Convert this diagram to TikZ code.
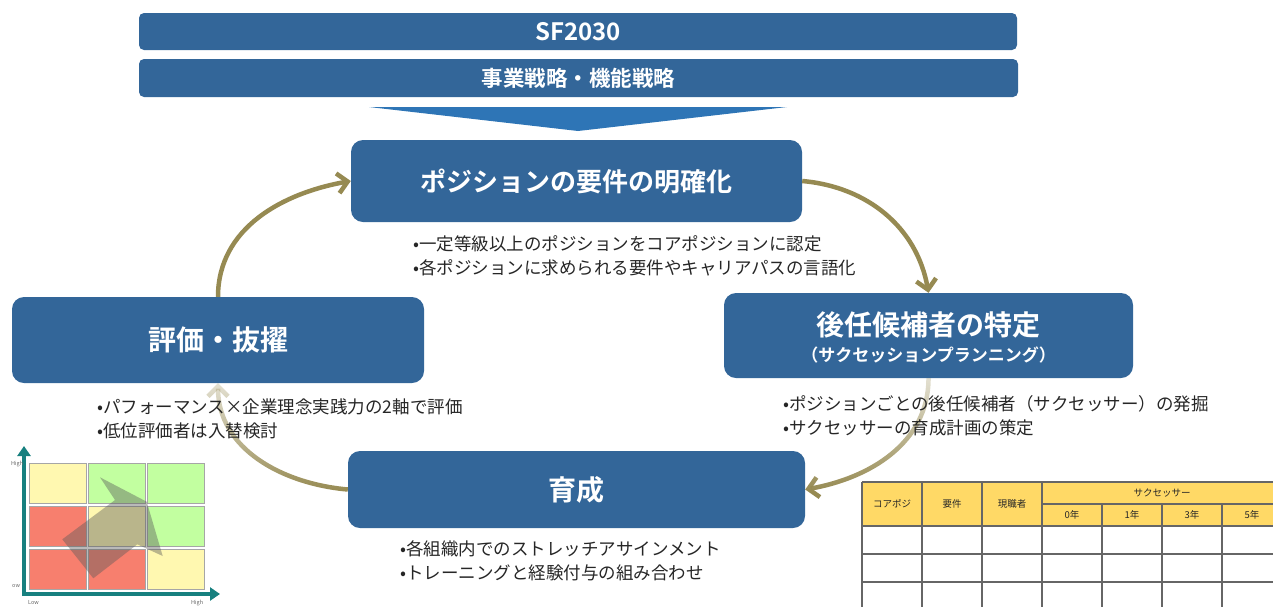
\documentclass[tikz,border=0pt]{standalone}
\usepackage{fontspec}
\setmainfont{Noto Sans CJK JP}[BoldFont={Noto Sans CJK JP Bold}]
\usetikzlibrary{arrows.meta,fadings}
\definecolor{boxblue}{HTML}{336699}
\definecolor{chevblue}{HTML}{2E75B6}
\definecolor{arrowolive}{HTML}{968A52}
\definecolor{cellY}{HTML}{FFF8B0}
\definecolor{cellG}{HTML}{C2FFA0}
\definecolor{cellR}{HTML}{F77F6E}
\definecolor{axisteal}{HTML}{17807F}
\definecolor{thead}{HTML}{FFD966}
\newcommand{\fs}[1]{\fontsize{#1}{#1}\selectfont}
\tikzfading[name=topfade, top color=transparent!75, middle color=transparent!15, bottom color=transparent!0]
\begin{document}
\begin{tikzpicture}[x=1pt,y=1pt,
  bar/.style={fill=boxblue, rounded corners=5pt, text=white, font=\bfseries, inner sep=0},
  box/.style={fill=boxblue, rounded corners=12pt, text=white, font=\bfseries, inner sep=0},
  bullet/.style={anchor=west, inner sep=0, text=black!85, font=\fs{17.5}},
  cycle/.style={draw=arrowolive, line width=4.5pt, -{Straight Barb[length=10pt,width=20pt]}},
  faded/.style={path fading=topfade, fit fading=true},
  cell/.style={draw=black!35, line width=0.8pt},
  tline/.style={draw=black!60, line width=1.2pt},
  ttext/.style={inner sep=0, font=\fs{9.5}, text=black!85},
  axis/.style={draw=axisteal, line width=4pt, -{Triangle[length=10pt,width=13pt]}},
  tiny/.style={inner sep=0, font=\fs{5.5}, text=black!60}
]
\useasboundingbox (0,0) rectangle (1273,-606);
\clip (0,0) rectangle (1273,-606);

% top bars
\node[bar, minimum width=878, minimum height=37] (sf) at (578,-31.5) {\fs{24}SF2030};
\node[bar, minimum width=879, minimum height=38] (st) at (578.5,-78) {\fs{21.5}事業戦略・機能戦略};
\fill[chevblue] (369,-107) -- (787,-107) -- (578,-131) -- cycle;

% main boxes
\node[box, minimum width=451, minimum height=82] (b1) at (576.5,-181) {\fs{26}ポジションの要件の明確化};
\node[box, minimum width=409, minimum height=85] (b2) at (928.5,-335.5) {};
\node[inner sep=0, text=white, font=\bfseries\fs{28}] (b2t) at (928.5,-325) {後任候補者の特定};
\node[inner sep=0, text=white, font=\bfseries\fs{17}] (b2s) at (928.5,-355) {（サクセッションプランニング）};
\node[box, minimum width=412, minimum height=86] (b3) at (218,-340) {\fs{28}評価・抜擢};
\node[box, minimum width=457, minimum height=77] (b4) at (576.5,-489.5) {\fs{28}育成};

% cycle arrows (behind the bullet texts)
\draw[cycle] (b3.north) to[out=90,in=190] (b1.west);
\draw[cycle] (b1.east) to[out=-5,in=100] (b2.north);
\draw[cycle, faded] (b2.south) to[out=-90,in=10] (b4.east);
\draw[cycle, faded] (b4.west) to[out=175,in=-90] (b3.south);

% bullets
\node[bullet] (t1a) at (413,-244) {•一定等級以上のポジションをコアポジションに認定};
\node[bullet] (t1b) at (413,-268) {•各ポジションに求められる要件やキャリアパスの言語化};
\node[bullet] (t2a) at (783,-404) {•ポジションごとの後任候補者（サクセッサー）の発掘};
\node[bullet] (t2b) at (783,-428) {•サクセッサーの育成計画の策定};
\node[bullet] (t3a) at (97,-407) {•パフォーマンス×企業理念実践力の2軸で評価};
\node[bullet] (t3b) at (97,-431) {•低位評価者は入替検討};
\node[bullet] (t4a) at (400,-549) {•各組織内でのストレッチアサインメント};
\node[bullet] (t4b) at (400,-573) {•トレーニングと経験付与の組み合わせ};

% 3x3 matrix
\filldraw[cell, fill=cellY] (29,-463) rectangle (86,-503);
\filldraw[cell, fill=cellG] (88,-463) rectangle (145,-503);
\filldraw[cell, fill=cellG] (147,-463) rectangle (204,-503);
\filldraw[cell, fill=cellR] (29,-506) rectangle (86,-546);
\filldraw[cell, fill=cellY] (88,-506) rectangle (145,-546);
\filldraw[cell, fill=cellG] (147,-506) rectangle (204,-546);
\filldraw[cell, fill=cellR] (29,-549) rectangle (86,-589);
\filldraw[cell, fill=cellR] (88,-549) rectangle (145,-589);
\filldraw[cell, fill=cellY] (147,-549) rectangle (204,-589);
\fill[black!65, opacity=0.42] (62.3,-539.3) -- (115,-500) -- (100,-477.3) -- (146.7,-501.7)
  -- (162.7,-556) -- (137.3,-544.3) -- (93.3,-578.3) -- cycle;
\coordinate (ax0) at (24,-596);
\coordinate (axy) at (24,-446);
\coordinate (ax1) at (22,-594);
\coordinate (axx) at (220,-594);
\draw[axis] (ax0) -- (axy);
\draw[axis] (ax1) -- (axx);
\node[tiny, anchor=west] (lh) at (11,-464) {High};
\node[tiny, anchor=west] (ll) at (12,-586) {ow};
\node[tiny, anchor=west] (xl) at (28,-603) {Low};
\node[tiny, anchor=west] (xh) at (191,-603) {High};

% table
\fill[thead] (862,-482) rectangle (1290,-526);
\fill[white] (862,-526) rectangle (1290,-610);
\foreach \x in {862,922,982,1042}{
  \draw[tline] (\x,-482) -- (\x,-610);
}
\foreach \x in {1102,1162,1222}{
  \draw[tline] (\x,-504) -- (\x,-610);
}
\draw[tline] (862,-482) -- (1290,-482);
\draw[tline] (1042,-504) -- (1290,-504);
\draw[tline] (862,-526) -- (1290,-526);
\draw[tline] (862,-554) -- (1290,-554);
\draw[tline] (862,-582) -- (1290,-582);
\node[ttext] (h1) at (892,-504) {コアポジ};
\node[ttext] (h2) at (952,-504) {要件};
\node[ttext] (h3) at (1012,-504) {現職者};
\node[ttext] (h4) at (1162,-493) {サクセッサー};
\node[ttext] (y0) at (1072,-515) {0年};
\node[ttext] (y1) at (1132,-515) {1年};
\node[ttext] (y3) at (1192,-515) {3年};
\node[ttext] (y5) at (1252,-515) {5年};
\end{tikzpicture}
\end{document}
